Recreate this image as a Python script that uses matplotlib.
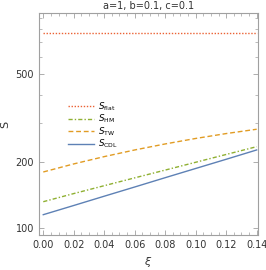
import matplotlib.pyplot as plt
from matplotlib.ticker import FixedLocator, MultipleLocator, NullFormatter

xi = [0.00, 0.02, 0.04, 0.06, 0.08, 0.10, 0.12, 0.14]
s_flat = [766, 766, 766, 766, 766, 766, 766, 766]
s_hm = [131.6, 143.3, 155.6, 168.9, 183.2, 198.8, 215.7, 234.0]
s_tw = [179.6, 195.4, 210.9, 226.1, 240.8, 255.0, 268.4, 280.8]
s_cdl = [114.9, 126.5, 139.4, 153.5, 169.2, 186.3, 205.1, 226.1]

x_ticks = [0.00, 0.02, 0.04, 0.06, 0.08, 0.10, 0.12, 0.14]
y_ticks = [100, 200, 500]
y_minor = [300, 400, 600, 700, 800, 900]

fig = plt.figure(figsize=(2.66, 2.70), dpi=100)
ax = fig.add_axes([0.1466, 0.1296, 0.8234, 0.8211])

lw = 1.0
ax.plot(xi, s_flat, color='#EB6235', lw=lw, ls=(0, (1, 1.2)), label=r'$S_{\rm flat}$')
ax.plot(xi, s_hm, color='#8FB032', lw=lw, ls=(0, (3, 1.5, 1, 1.5)), label=r'$S_{\rm HM}$')
ax.plot(xi, s_tw, color='#E19C24', lw=lw, ls=(0, (3.5, 2)), label=r'$S_{\rm TW}$')
ax.plot(xi, s_cdl, color='#5E81B5', lw=lw, label=r'$S_{\rm CDL}$')

ax.set_yscale('log')
ax.set_xlim(-0.0028, 0.1409)
ax.set_ylim(92.9, 944)

ax.xaxis.set_major_locator(FixedLocator(x_ticks))
ax.xaxis.set_minor_locator(MultipleLocator(0.005))
ax.set_xticklabels([f'{t:.2f}' for t in x_ticks])
ax.yaxis.set_major_locator(FixedLocator(y_ticks))
ax.yaxis.set_minor_locator(FixedLocator(y_minor))
ax.yaxis.set_minor_formatter(NullFormatter())
ax.set_yticklabels([str(t) for t in y_ticks])

for spine in ax.spines.values():
    spine.set_color('#a0a0a0')
    spine.set_linewidth(0.8)
ax.tick_params(which='both', direction='in', top=True, right=True,
               color='#a0a0a0', labelsize=7, labelcolor='#333333')
ax.tick_params(which='major', length=3.5, width=0.6)
ax.tick_params(which='minor', length=2, width=0.5)

ax.set_xlabel(r'$\xi$', fontsize=8, color='#333333', labelpad=4)
ax.set_ylabel('S', fontsize=8, color='#333333', labelpad=4)
ax.set_title('a=1, b=0.1, c=0.1', fontsize=7, color='#333333', pad=3)

ax.legend(loc='center left', bbox_to_anchor=(0.118, 0.495), frameon=False,
          fontsize=6.3, handlelength=2.9, handletextpad=0.5,
          labelspacing=0.0, borderaxespad=0)

fig.savefig('out.png', dpi=100)
